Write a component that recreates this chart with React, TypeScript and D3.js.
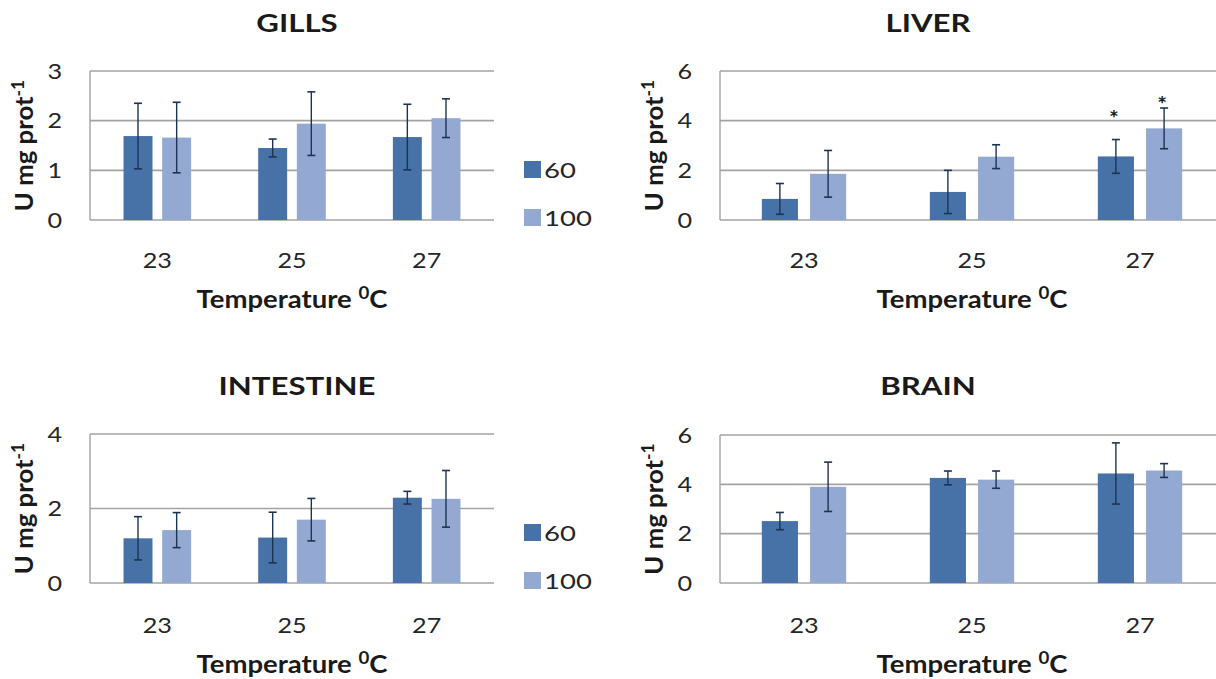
import React from 'react';
import * as d3 from 'd3';

const categories = ['23', '25', '27'];
const seriesNames = ['60', '100'];

const gills60 = [1.69, 1.45, 1.67];
const gills60Err = [0.66, 0.18, 0.66];
const gills100 = [1.66, 1.94, 2.05];
const gills100Err = [0.71, 0.64, 0.39];

const liver60 = [0.85, 1.13, 2.56];
const liver60Err = [0.62, 0.87, 0.68];
const liver100 = [1.86, 2.55, 3.69];
const liver100Err = [0.94, 0.48, 0.82];
const liverStars60 = [null, null, 4.36];
const liverStars100 = [null, null, 4.96];

const intestine60 = [1.2, 1.22, 2.29];
const intestine60Err = [0.58, 0.68, 0.17];
const intestine100 = [1.42, 1.7, 2.26];
const intestine100Err = [0.47, 0.57, 0.76];

const brain60 = [2.51, 4.26, 4.44];
const brain60Err = [0.35, 0.28, 1.24];
const brain100 = [3.9, 4.19, 4.56];
const brain100Err = [1.0, 0.35, 0.28];

const gillsTicks = [0, 1, 2, 3];
const liverTicks = [0, 2, 4, 6];
const intestineTicks = [0, 2, 4];
const brainTicks = [0, 2, 4, 6];

const COLORS = ['#4672A7', '#94A9D1'];
const FONT = 'Lato, "Open Sans", sans-serif';

type TP = {
  x: number; y: number; sx?: number; rot?: number; size: number; bold?: boolean;
  anchor?: 'start' | 'middle' | 'end'; dy?: string; fill?: string; children: React.ReactNode;
};
function STxt({ x, y, sx = 1, rot = 0, size, bold, anchor = 'start', dy, fill = '#1a1a1a', children }: TP) {
  return (
    <text
      transform={`translate(${x},${y}) rotate(${rot}) scale(${sx},1)`}
      textAnchor={anchor}
      dy={dy}
      fontFamily={FONT}
      fontWeight={bold ? 'bold' : 'normal'}
      fontSize={size}
      fill={fill}
    >
      {children}
    </text>
  );
}

type PanelProps = {
  title: string;
  v60: number[]; e60: number[]; v100: number[]; e100: number[];
  stars60?: (number | null)[]; stars100?: (number | null)[];
  ticks: number[];
  x0: number; x1: number; yTop: number; yBottom: number;
  titleX: number; titleY: number; xTickY: number; xTitleY: number;
  legend: boolean;
};

function Panel(p: PanelProps) {
  const x = d3.scaleBand<string>().domain(categories).range([p.x0, p.x1]).paddingInner(0).paddingOuter(0);
  const y = d3.scaleLinear().domain([0, d3.max(p.ticks) as number]).range([p.yBottom, p.yTop]);
  const band = x.bandwidth();
  const bw = band * 0.215;
  const gap = band * 0.072;
  const vals = [p.v60, p.v100];
  const errs = [p.e60, p.e100];
  const stars = [p.stars60 || [], p.stars100 || []];
  const yMid = (p.yTop + p.yBottom) / 2;
  const cap = 4;
  return (
    <g>
      <STxt x={p.titleX} y={p.titleY} sx={1.3} size={24} bold anchor="middle">{p.title}</STxt>
      {p.ticks.map((t) => (
        <g key={t}>
          <line x1={p.x0} x2={Math.min(p.x1, 1216)} y1={y(t)} y2={y(t)} stroke="#a3a3a3" strokeWidth={1.6} />
          <STxt x={p.x0 - 28} y={y(t)} dy="0.36em" sx={1.2} size={21} anchor="end" fill="#262626">{t}</STxt>
        </g>
      ))}
      <line x1={p.x0} x2={p.x0} y1={p.yTop} y2={p.yBottom} stroke="#a3a3a3" strokeWidth={1.4} />
      {categories.map((c, i) => {
        const cx = (x(c) as number) + band / 2;
        return (
          <g key={c}>
            {[0, 1].map((s) => {
              const bx = s === 0 ? cx - gap / 2 - bw : cx + gap / 2;
              const v = vals[s][i];
              const e = errs[s][i];
              const mx = bx + bw / 2;
              const st = stars[s][i];
              return (
                <g key={s}>
                  <rect x={bx} y={y(v)} width={bw} height={y(0) - y(v)} fill={COLORS[s]} />
                  <line x1={mx} x2={mx} y1={y(v + e)} y2={y(v - e)} stroke="#1d3354" strokeWidth={1.4} />
                  <line x1={mx - cap} x2={mx + cap} y1={y(v + e)} y2={y(v + e)} stroke="#1d3354" strokeWidth={1.6} />
                  <line x1={mx - cap} x2={mx + cap} y1={y(v - e)} y2={y(v - e)} stroke="#1d3354" strokeWidth={1.6} />
                  {st != null && (
                    <STxt x={mx - 2} y={y(st)} dy="0.7em" sx={1.1} size={21} bold anchor="middle">*</STxt>
                  )}
                </g>
              );
            })}
            <STxt x={cx} y={p.xTickY} sx={1.2} size={21} anchor="middle" fill="#262626">{c}</STxt>
          </g>
        );
      })}
      <STxt x={(p.x0 + p.x1) / 2} y={p.xTitleY} sx={1.1} size={25} bold anchor="middle">
        Temperature <tspan dy={-9} fontSize={17}>0</tspan><tspan dy={9}>C</tspan>
      </STxt>
      <STxt x={p.x0 - 66} y={yMid} rot={-90} sx={1.03} size={25} bold anchor="middle" dy="0.36em">
        U mg prot<tspan dy={-9} fontSize={17}>-1</tspan>
      </STxt>
      {p.legend && seriesNames.map((s, i) => {
        const ly = yMid + 15.5 + i * 48;
        return (
          <g key={s}>
            <rect x={524} y={ly} width={17} height={17} fill={COLORS[i]} />
            <STxt x={544} y={ly + 16.5} sx={1.25} size={22} fill="#262626">{s}</STxt>
          </g>
        );
      })}
    </g>
  );
}

export default function App() {
  return (
    <svg width={1216} height={679} style={{ position: 'absolute', left: 0, top: 0, background: '#fff' }}>
      <rect width={1216} height={679} fill="#fff" />
      <Panel title="GILLS" v60={gills60} e60={gills60Err} v100={gills100} e100={gills100Err} ticks={gillsTicks}
        x0={90} x1={494} yTop={71} yBottom={220} titleX={297} titleY={32} xTickY={268} xTitleY={308} legend={true} />
      <Panel title="LIVER" v60={liver60} e60={liver60Err} v100={liver100} e100={liver100Err}
        stars60={liverStars60} stars100={liverStars100} ticks={liverTicks}
        x0={720} x1={1224} yTop={71} yBottom={220} titleX={928} titleY={32} xTickY={268} xTitleY={308} legend={false} />
      <Panel title="INTESTINE" v60={intestine60} e60={intestine60Err} v100={intestine100} e100={intestine100Err} ticks={intestineTicks}
        x0={90} x1={494} yTop={434} yBottom={583} titleX={297} titleY={395} xTickY={633} xTitleY={673} legend={true} />
      <Panel title="BRAIN" v60={brain60} e60={brain60Err} v100={brain100} e100={brain100Err} ticks={brainTicks}
        x0={720} x1={1224} yTop={435} yBottom={583} titleX={928} titleY={395} xTickY={633} xTitleY={673} legend={false} />
    </svg>
  );
}
